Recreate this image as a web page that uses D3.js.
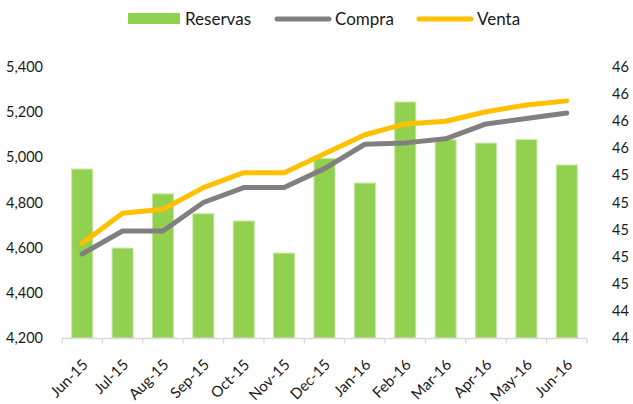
<!DOCTYPE html>
<html><head><meta charset="utf-8">
<script src="https://cdn.jsdelivr.net/npm/d3@7"></script>
<style>
html,body{margin:0;padding:0;background:#fff;}
text{font-family:Lato,"Liberation Sans",sans-serif;fill:#1a1a1a;}
</style></head>
<body>
<svg id="chart" width="633" height="404"></svg>
<script>
const categories = ["Jun-15","Jul-15","Aug-15","Sep-15","Oct-15","Nov-15","Dec-15","Jan-16","Feb-16","Mar-16","Apr-16","May-16","Jun-16"];
const reservas = [4948, 4598, 4838, 4750, 4718, 4576, 4995, 4886, 5245, 5077, 5063, 5078, 4966];
const compra = [44.82, 44.99, 44.99, 45.20, 45.31, 45.31, 45.45, 45.63, 45.64, 45.67, 45.78, 45.82, 45.86];
const venta  = [44.90, 45.12, 45.15, 45.31, 45.42, 45.42, 45.56, 45.70, 45.78, 45.80, 45.87, 45.92, 45.95];
const leftTicks = [4200, 4400, 4600, 4800, 5000, 5200, 5400];
const rightTicks = [44.2, 44.4, 44.6, 44.8, 45.0, 45.2, 45.4, 45.6, 45.8, 46.0, 46.2];
const seriesNames = ["Reservas", "Compra", "Venta"];
const colors = {Reservas:"#92D050", Compra:"#808080", Venta:"#FFC000"};

const svg = d3.select("#chart");
const plot = {left:62, right:587, top:67, bottom:338};

const x = d3.scaleBand().domain(categories).range([plot.left, plot.right]).paddingInner(0.48).paddingOuter(0.24);
const xc = d => x(d) + x.bandwidth()/2;
const yL = d3.scaleLinear().domain([4200, 5400]).range([plot.bottom, plot.top]);
const yR = d3.scaleLinear().domain([44.2, 46.2]).range([plot.bottom, plot.top]);

// bars
svg.append("g").selectAll("rect").data(categories).join("rect")
  .attr("x", d => x(d))
  .attr("width", x.bandwidth())
  .attr("y", (d,i) => yL(reservas[i]))
  .attr("height", (d,i) => plot.bottom - yL(reservas[i]))
  .attr("fill", colors.Reservas)
  .attr("stroke", "#c3e6a0").attr("stroke-width", 1);

// x axis
const xAxisG = svg.append("g").attr("transform", `translate(0,${plot.bottom+0.5})`);
xAxisG.append("line").attr("x1", plot.left).attr("x2", plot.right).attr("stroke", "#d9d9d9").attr("stroke-width", 1.3);
const step = x.step();
const boundaries = d3.range(categories.length + 1).map(i => plot.left + i*step);
xAxisG.selectAll("line.tick").data(boundaries).join("line").attr("class","tick")
  .attr("x1", d => d).attr("x2", d => d).attr("y1", 0).attr("y2", 5)
  .attr("stroke", "#d9d9d9").attr("stroke-width", 1.3);
svg.append("g").selectAll("text").data(categories).join("text")
  .attr("transform", d => `translate(${xc(d)+3},${plot.bottom+24}) rotate(-45)`)
  .attr("text-anchor", "end")
  .attr("dy", "0.35em")
  .style("font-size", "15px")
  .text(d => d);

// left axis
const fmtL = d3.format(",");
svg.append("g").selectAll("text").data(leftTicks).join("text")
  .attr("x", 43).attr("y", d => yL(d)).attr("dy", "0.35em")
  .attr("text-anchor", "end").style("font-size", "14.5px")
  .text(d => fmtL(d));

// right axis
const fmtR = d3.format(".0f");
svg.append("g").selectAll("text").data(rightTicks).join("text")
  .attr("x", 612).attr("y", d => yR(d)).attr("dy", "0.35em")
  .attr("text-anchor", "start").style("font-size", "14.5px")
  .text(d => fmtR(d));

// lines
const line = d3.line().x((d,i) => xc(categories[i])).y(d => yR(d));
[["Compra", compra], ["Venta", venta]].forEach(([name, vals]) => {
  svg.append("path").datum(vals).attr("d", line)
    .attr("fill", "none").attr("stroke", colors[name]).attr("stroke-width", 5)
    .attr("stroke-linecap", "round").attr("stroke-linejoin", "round");
});

// legend
const legend = svg.append("g");
const legX = {Reservas:128, Compra:275, Venta:417};
seriesNames.forEach(name => {
  const g = legend.append("g").attr("transform", `translate(${legX[name]},19)`);
  if (name === "Reservas") {
    g.append("rect").attr("x", 0).attr("y", -6).attr("width", 52).attr("height", 11).attr("fill", colors[name]);
  } else {
    g.append("line").attr("x1", 2).attr("x2", 54).attr("y1", 0).attr("y2", 0)
      .attr("stroke", colors[name]).attr("stroke-width", 5).attr("stroke-linecap", "round");
  }
  g.append("text").attr("x", name === "Reservas" ? 57 : 60).attr("y", 0).attr("dy", "0.35em")
    .style("font-size", "17px").text(name);
});
</script>
</body></html>
